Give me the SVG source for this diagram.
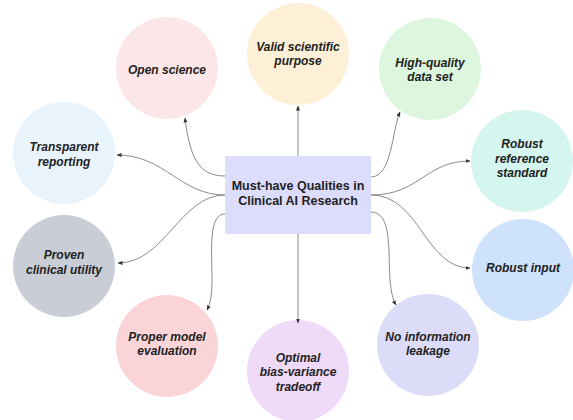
<svg xmlns="http://www.w3.org/2000/svg" width="573" height="420" viewBox="0 0 573 420">
<style>
.n text{font-family:"Liberation Sans",Arial,sans-serif;font-weight:bold;font-style:italic;font-size:12px;fill:#222;text-anchor:middle}
#center text{font-style:normal;font-size:12.5px}
.c path{fill:none;stroke:#8a8a8a;stroke-width:1}
</style>
<defs>
<marker id="ah" viewBox="0 0 10 10" refX="9" refY="5" markerWidth="5" markerHeight="5" orient="auto" markerUnits="userSpaceOnUse">
<path d="M0,1 L10,5 L0,9 z" fill="#333"/>
</marker>
</defs>
<rect width="573" height="420" fill="#fff"/>
<g id="open-science" class="n"><circle cx="167" cy="68" r="51" fill="#fde6e8"/><text x="167" y="74">Open science</text></g>
<g id="valid-purpose" class="n"><circle cx="298" cy="54" r="51" fill="#fdf0d6"/><text x="298" y="51">Valid scientific</text><text x="298" y="65">purpose</text></g>
<g id="high-quality" class="n"><circle cx="430" cy="69" r="51" fill="#dcf7dd"/><text x="430" y="67">High-quality</text><text x="430" y="81">data set</text></g>
<g id="transparent" class="n"><circle cx="64" cy="153" r="51" fill="#e8f3fc"/><text x="64" y="151">Transparent</text><text x="64" y="166">reporting</text></g>
<g id="proven" class="n"><circle cx="64" cy="266" r="51" fill="#c9ced6"/><text x="64" y="259">Proven</text><text x="64" y="274">clinical utility</text></g>
<g id="robust-reference" class="n"><circle cx="522" cy="161" r="51" fill="#d5f6ee"/><text x="522" y="148">Robust</text><text x="522" y="163">reference</text><text x="522" y="177">standard</text></g>
<g id="robust-input" class="n"><circle cx="523" cy="270" r="51" fill="#cfe2fb"/><text x="523" y="272">Robust input</text></g>
<g id="proper-model" class="n"><circle cx="167" cy="346" r="51" fill="#fad4d7"/><text x="167" y="341">Proper model</text><text x="167" y="355">evaluation</text></g>
<g id="optimal" class="n"><circle cx="298" cy="371" r="51" fill="#efdaf8"/><text x="298" y="362">Optimal</text><text x="298" y="376">bias-variance</text><text x="298" y="391">tradeoff</text></g>
<g id="no-leakage" class="n"><circle cx="428" cy="345" r="51" fill="#dcdcf8"/><text x="428" y="341">No information</text><text x="428" y="355">leakage</text></g>
<g id="center" class="n"><rect x="225" y="156" width="146" height="78" fill="#dcdcfc"/><text x="298" y="190">Must-have Qualities in</text><text x="298" y="205">Clinical AI Research</text></g>
<g id="connectors" class="c">
<path d="M225,176 C200,176 190,160 185,118" marker-end="url(#ah)"/>
<path d="M298,156 L298,106" marker-end="url(#ah)"/>
<path d="M371,177 C392,177 392,130 400,112" marker-end="url(#ah)"/>
<path d="M225,195 C180,195 165,155 117,155" marker-end="url(#ah)"/>
<path d="M225,195 C180,195 165,263 118,263" marker-end="url(#ah)"/>
<path d="M225,214 C208,214 212,250 212,280 C212,296 210,304 207,310" marker-end="url(#ah)"/>
<path d="M298,234 L298,323" marker-end="url(#ah)"/>
<path d="M371,195 C420,195 425,161 470,161" marker-end="url(#ah)"/>
<path d="M371,195 C420,195 425,268 470,268" marker-end="url(#ah)"/>
<path d="M371,212 C392,212 388,250 390,280 C391,292 393,300 396,305" marker-end="url(#ah)"/>
</g>
</svg>
